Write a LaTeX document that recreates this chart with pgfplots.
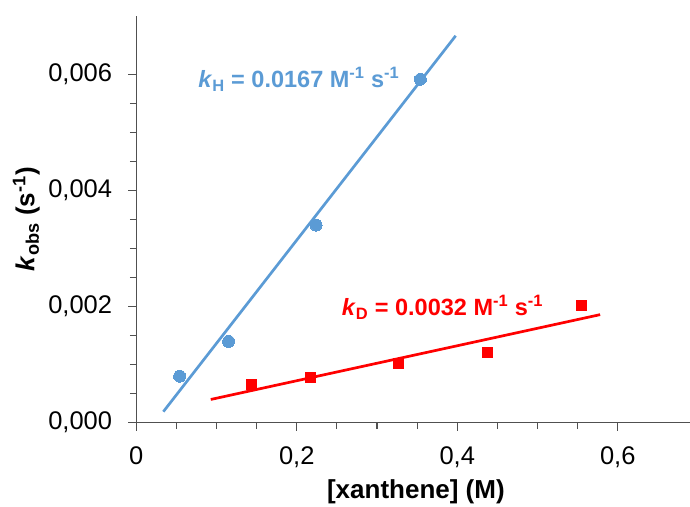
\documentclass[border=0pt]{standalone}
\usepackage{fontspec}
\setmainfont{Liberation Sans}
\usepackage{pgfplots}
\pgfplotsset{compat=1.18}
\definecolor{xblue}{RGB}{91,155,213}
\definecolor{xred}{RGB}{255,0,0}
\definecolor{axgray}{RGB}{80,80,80}
\begin{document}
\begin{tikzpicture}
\path[use as bounding box] (-136.3bp,-84.3bp) rectangle (553.7bp,422.7bp);
\begin{axis}[
  scale only axis, width=553.7bp, height=406.7bp,
  at={(0,0)}, anchor=south west,
  xmin=0, xmax=0.69, ymin=0, ymax=0.007,
  axis x line*=bottom, axis y line*=left,
  axis line style={axgray, line width=1.3bp, -},
  tick style={axgray, line width=1.1bp},
  tick align=outside,
  major tick length=8bp, minor tick length=6.5bp,
  xtick={0,0.2,0.4,0.6}, ytick={0,0.002,0.004,0.006},
  minor x tick num=3, minor y tick num=3,
  scaled ticks=false,
  clip=false,
  x tick label style={/pgf/number format/fixed, /pgf/number format/precision=1, /pgf/number format/use comma, /pgf/number format/assume math mode=true, anchor=north, inner sep=0pt, yshift=-16bp},
  y tick label style={/pgf/number format/fixed, /pgf/number format/fixed zerofill, /pgf/number format/precision=3, /pgf/number format/use comma, /pgf/number format/assume math mode=true, anchor=east, inner sep=0pt, xshift=-16bp},
  tick label style={font=\fontsize{25.5bp}{30bp}\selectfont, text=black},
  xlabel={\textbf{[xanthene] (M)}},
  xlabel style={at={(axis description cs:0.505,-0.169)}, anchor=center, font=\fontsize{26bp}{30bp}\selectfont},
  ylabel={\textbf{\textit{k}\textsubscript{obs} (s\textsuperscript{-1})}},
  ylabel style={at={(axis description cs:-0.1987,0.5)}, anchor=center, font=\fontsize{26bp}{30bp}\selectfont},
]
% fit lines
\addplot[xblue, line width=2.7bp, no marks] coordinates {(0.0337,0.00019) (0.398,0.00666)};
\addplot[xred, line width=2.7bp, no marks] coordinates {(0.0928,0.00040) (0.578,0.00186)};
% data
\addplot[only marks, color=xblue, mark=*, mark size=6bp, mark options={fill=xblue, draw=xblue, line width=0pt}] coordinates {
  (0.054,0.00080) (0.115,0.00140) (0.224,0.00340) (0.354,0.00591)};
\addplot[only marks, color=xred, mark=square*, mark size=5bp, mark options={fill=xred, draw=xred, line width=0pt}] coordinates {
  (0.144,0.00065) (0.2175,0.00078) (0.327,0.00102) (0.438,0.00121) (0.555,0.00201)};
\node[anchor=west, text=xblue, inner sep=0pt, font=\fontsize{23.5bp}{28bp}\selectfont\bfseries] at (axis cs:0.077,0.00591) {\textit{k}\textsubscript{H} = 0.0167 M\textsuperscript{-1} s\textsuperscript{-1}};
\node[anchor=west, text=xred, inner sep=0pt, font=\fontsize{23.5bp}{28bp}\selectfont\bfseries] at (axis cs:0.256,0.00198) {\textit{k}\textsubscript{D} = 0.0032 M\textsuperscript{-1} s\textsuperscript{-1}};
\end{axis}
\end{tikzpicture}
\end{document}
